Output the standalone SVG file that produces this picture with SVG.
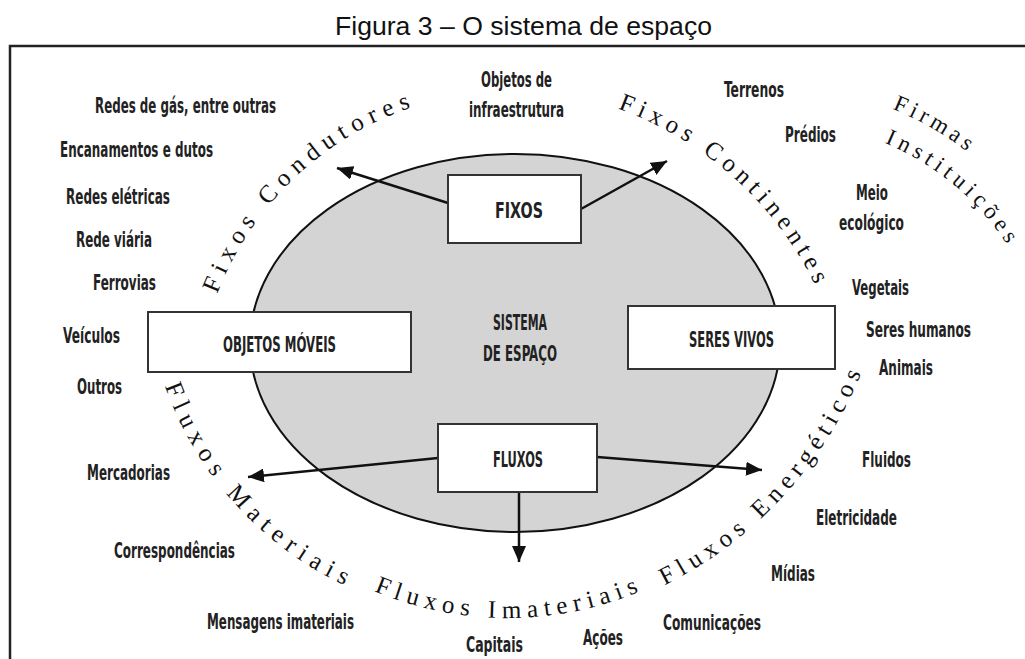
<svg xmlns="http://www.w3.org/2000/svg" width="1025" height="659" viewBox="0 0 1025 659">
<style>
.lbl{font-family:'Liberation Sans Narrow','DejaVu Sans Condensed','Liberation Sans',sans-serif;font-weight:bold;font-size:22px;fill:#222}
.arc{font-family:'Liberation Serif','Times New Roman',serif;font-size:25px;fill:#111}
.box{fill:#fff;stroke:#333;stroke-width:2}
.conn{stroke:#111;stroke-width:2.5;fill:none}
.title{font-family:'Liberation Sans',Arial,sans-serif;font-size:25px;fill:#111}
</style>
<defs>
<marker id="ah" markerUnits="userSpaceOnUse" markerWidth="18" markerHeight="14" refX="16" refY="7" orient="auto">
<path d="M0,0 L16,7 L0,14 Z" fill="#111"/>
</marker>
<path id="pCond" d="M217.2,294 A316,316 0 0 1 457.1,95.8"/>
<path id="pCont" d="M617.7,108.6 A352,352 0 0 1 845.7,378.9"/>
<path id="pFirm" d="M892.3,109 A301,301 0 0 1 1064.9,286"/>
<path id="pInst" d="M884.6,142.9 A268,268 0 0 1 1049,365.6"/>
<path id="pMat" d="M165,386 A347,347 0 0 0 459.8,616.7"/>
<path id="pImat" d="M374,591.1 A344.6,344.6 0 0 0 729,537.4"/>
<path id="pEner" d="M664.4,585.4 A408,408 0 0 0 889.4,255.6"/>
</defs>
<rect width="1025" height="659" fill="#fff"/>
<text class="title" x="335" y="35" textLength="377" lengthAdjust="spacingAndGlyphs">Figura 3 – O sistema de espaço</text>
<path d="M10,659 V46 H1025" fill="none" stroke="#222" stroke-width="2.5"/>
<g id="sistema">
<ellipse cx="515" cy="343" rx="265" ry="189" fill="#d4d4d4" stroke="#111" stroke-width="2"/>
<text class="lbl" x="493" y="330" textLength="54" lengthAdjust="spacingAndGlyphs">SISTEMA</text>
<text class="lbl" x="483" y="361" textLength="74" lengthAdjust="spacingAndGlyphs">DE ESPAÇO</text>
</g>
<g id="connectors">
<line class="conn" x1="448" y1="203" x2="337" y2="168" marker-end="url(#ah)"/>
<line class="conn" x1="581" y1="209" x2="667" y2="161" marker-end="url(#ah)"/>
<line class="conn" x1="438" y1="458" x2="248" y2="477" marker-end="url(#ah)"/>
<line class="conn" x1="597" y1="457" x2="762" y2="470" marker-end="url(#ah)"/>
<line class="conn" x1="519" y1="492" x2="519" y2="562" marker-end="url(#ah)"/>
</g>
<g id="fixos">
<rect class="box" x="448" y="175" width="133" height="68"/>
<text class="lbl" x="495" y="218" textLength="48" lengthAdjust="spacingAndGlyphs">FIXOS</text>
</g>
<g id="objetos-moveis">
<rect class="box" x="148" y="312" width="263" height="60"/>
<text class="lbl" x="223" y="352" textLength="113" lengthAdjust="spacingAndGlyphs">OBJETOS MÓVEIS</text>
</g>
<g id="seres-vivos">
<rect class="box" x="628" y="306" width="207" height="63"/>
<text class="lbl" x="689" y="347" textLength="85" lengthAdjust="spacingAndGlyphs">SERES VIVOS</text>
</g>
<g id="fluxos">
<rect class="box" x="438" y="424" width="159" height="68"/>
<text class="lbl" x="493" y="467" textLength="50" lengthAdjust="spacingAndGlyphs">FLUXOS</text>
</g>
<g id="arc-labels" class="arc">
<text letter-spacing="6.7"><textPath href="#pCond">Fixos Condutores</textPath></text>
<text letter-spacing="5.6"><textPath href="#pCont">Fixos Continentes</textPath></text>
<text letter-spacing="4.4" style="font-size:23px"><textPath href="#pFirm">Firmas</textPath></text>
<text letter-spacing="5.0" style="font-size:23px"><textPath href="#pInst">Instituições</textPath></text>
<text letter-spacing="7.1"><textPath href="#pMat">Fluxos Materiais</textPath></text>
<text letter-spacing="6.1"><textPath href="#pImat">Fluxos Imateriais</textPath></text>
<text letter-spacing="6.1"><textPath href="#pEner">Fluxos Energéticos</textPath></text>
</g>
<g id="labels">
<text class="lbl" x="95" y="113" textLength="181" lengthAdjust="spacingAndGlyphs">Redes de gás, entre outras</text>
<text class="lbl" x="60" y="157" textLength="153" lengthAdjust="spacingAndGlyphs">Encanamentos e dutos</text>
<text class="lbl" x="66" y="204" textLength="104" lengthAdjust="spacingAndGlyphs">Redes elétricas</text>
<text class="lbl" x="76" y="247" textLength="76" lengthAdjust="spacingAndGlyphs">Rede viária</text>
<text class="lbl" x="93" y="290" textLength="63" lengthAdjust="spacingAndGlyphs">Ferrovias</text>
<text class="lbl" x="63" y="343" textLength="57" lengthAdjust="spacingAndGlyphs">Veículos</text>
<text class="lbl" x="77" y="394" textLength="45" lengthAdjust="spacingAndGlyphs">Outros</text>
<text class="lbl" x="87" y="480" textLength="83" lengthAdjust="spacingAndGlyphs">Mercadorias</text>
<text class="lbl" x="114" y="558" textLength="121" lengthAdjust="spacingAndGlyphs">Correspondências</text>
<text class="lbl" x="207" y="629" textLength="147" lengthAdjust="spacingAndGlyphs">Mensagens imateriais</text>
<text class="lbl" x="466" y="652" textLength="57" lengthAdjust="spacingAndGlyphs">Capitais</text>
<text class="lbl" x="583" y="645" textLength="40" lengthAdjust="spacingAndGlyphs">Ações</text>
<text class="lbl" x="663" y="630" textLength="98" lengthAdjust="spacingAndGlyphs">Comunicações</text>
<text class="lbl" x="771" y="581" textLength="44" lengthAdjust="spacingAndGlyphs">Mídias</text>
<text class="lbl" x="816" y="525" textLength="81" lengthAdjust="spacingAndGlyphs">Eletricidade</text>
<text class="lbl" x="862" y="467" textLength="49" lengthAdjust="spacingAndGlyphs">Fluidos</text>
<text class="lbl" x="879" y="375" textLength="54" lengthAdjust="spacingAndGlyphs">Animais</text>
<text class="lbl" x="866" y="337" textLength="105" lengthAdjust="spacingAndGlyphs">Seres humanos</text>
<text class="lbl" x="852" y="295" textLength="57" lengthAdjust="spacingAndGlyphs">Vegetais</text>
<text class="lbl" x="856" y="200" textLength="32" lengthAdjust="spacingAndGlyphs">Meio</text>
<text class="lbl" x="839" y="230" textLength="65" lengthAdjust="spacingAndGlyphs">ecológico</text>
<text class="lbl" x="785" y="142" textLength="51" lengthAdjust="spacingAndGlyphs">Prédios</text>
<text class="lbl" x="724" y="97" textLength="60" lengthAdjust="spacingAndGlyphs">Terrenos</text>
<text class="lbl" x="481" y="87" textLength="71" lengthAdjust="spacingAndGlyphs">Objetos de</text>
<text class="lbl" x="469" y="117" textLength="95" lengthAdjust="spacingAndGlyphs">infraestrutura</text>
</g>
</svg>
